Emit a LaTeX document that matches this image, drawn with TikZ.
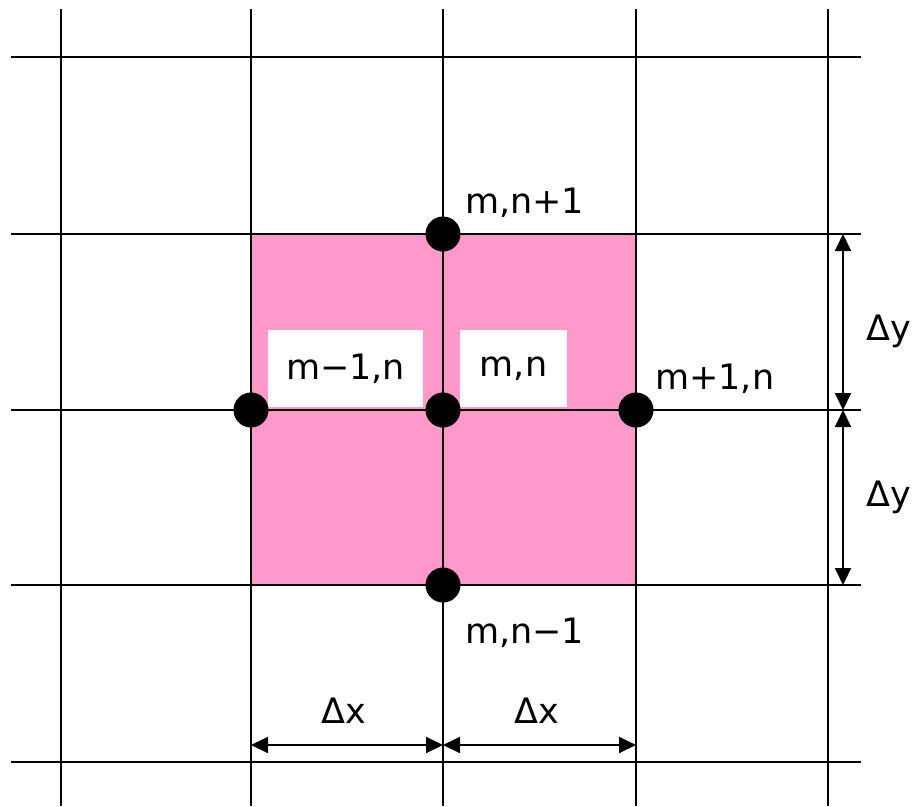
\documentclass[tikz,border=0pt]{standalone}
\usepackage{fontspec}
\setmainfont{DejaVu Sans}
\usetikzlibrary{arrows.meta,positioning}
\definecolor{cellpink}{HTML}{FF99CC}

\begin{document}
\begin{tikzpicture}[
  x=1pt, y=-1pt,
  grid/.style={line width=2pt},
  pt/.style={circle, fill=black, inner sep=0pt, minimum size=35pt},
  lbl/.style={font=\fontsize{35}{41}\selectfont, inner sep=0pt},
  tag/.style={lbl, fill=white, minimum height=77pt},
  dim/.style={{Triangle[length=17pt,width=16pt]}-{Triangle[length=17pt,width=16pt]}, line width=2pt}
]
\useasboundingbox (0,0) rectangle (918,806);
% shaded cell
\fill[cellpink] (251,234) rectangle (636,585);
% grid
\draw[grid] (61,9) -- (61,806);
\draw[grid] (251,9) -- (251,806);
\draw[grid] (443,9) -- (443,806);
\draw[grid] (636,9) -- (636,806);
\draw[grid] (828,9) -- (828,806);
\draw[grid] (11,57) -- (861,57);
\draw[grid] (11,234) -- (861,234);
\draw[grid] (11,410) -- (861,410);
\draw[grid] (11,585) -- (861,585);
\draw[grid] (11,762) -- (861,762);

\node[tag, minimum width=155pt] (left-tag) at (345.5,368.5) {m−1,n};
\node[tag, minimum width=107pt] (mid-tag) at (513.5,368.5) {m,n};

\node[pt] (mn)  at (443,410) {};
\node[pt] (mnu) at (443,234) {};
\node[pt] (mnd) at (443,585) {};
\node[pt] (ml)  at (251,410) {};
\node[pt] (mr)  at (636,410) {};

\node[lbl, anchor=west] (mnu-lbl) at (465,203) {m,n+1};
\node[lbl, anchor=west] (mr-lbl)  at (655,379) {m+1,n};
\node[lbl, anchor=west] (mnd-lbl) at (465,633) {m,n−1};

% spacings
\coordinate (y0) at (843,234);
\coordinate (y1) at (843,410);
\coordinate (y2) at (843,585);
\coordinate (x0) at (251,745);
\coordinate (x1) at (443,745);
\coordinate (x2) at (636,745);
\draw[dim] (y0) -- (y1);
\draw[dim] (y1) -- (y2);
\draw[dim] (x0) -- (x1);
\draw[dim] (x1) -- (x2);
\node[lbl] (dy1) at (889,331) {Δy};
\node[lbl] (dy2) at (889,497) {Δy};
\node[lbl] (dx1) at (344,711) {Δx};
\node[lbl] (dx2) at (537,711) {Δx};
\end{tikzpicture}
\end{document}
